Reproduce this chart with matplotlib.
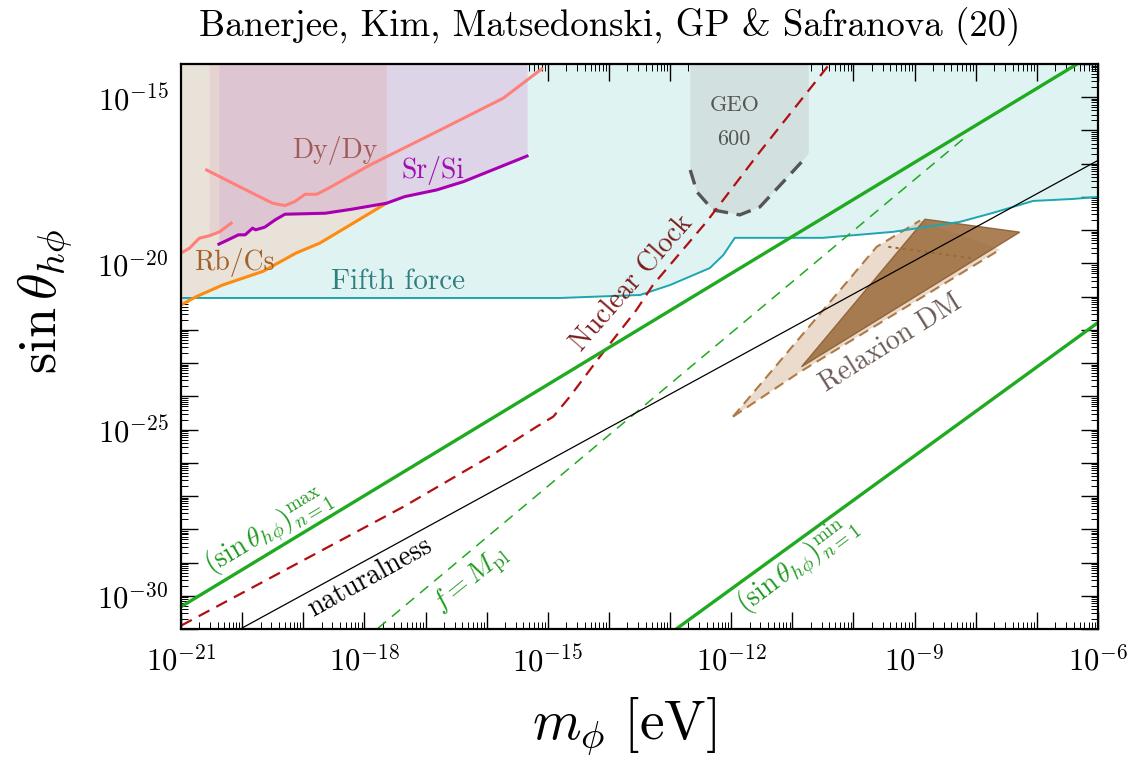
import numpy as np
import matplotlib
matplotlib.use("Agg")
import matplotlib.pyplot as plt
from matplotlib.ticker import LogLocator, FixedLocator, NullFormatter

plt.rcParams['mathtext.fontset'] = 'cm'
RM = ['cmr10', 'DejaVu Serif']

# ---- data (log10 m_phi [eV], log10 sin theta) ----
X_LIM = (-21.0, -6.0)
Y_LIM = (-31.0, -14.0)

ff_logm = [-21.0, -14.80, -13.49, -13.0, -12.35, -12.13, -11.94, -10.50, -9.35, -8.26, -7.72, -7.06, -6.41, -6.0]
ff_logs = [-21.04, -21.04, -20.95, -20.65, -20.14, -19.75, -19.23, -19.23, -19.05, -18.75, -18.48, -18.12, -18.06, -18.0]

rbcs_logm = [-21.0, -20.75, -20.32, -19.66, -19.12, -18.73, -17.64]
rbcs_logs = [-21.25, -21.0, -20.65, -20.24, -19.69, -19.39, -18.19]

dy1_logm = [-21.0, -20.86, -20.70, -20.54, -20.37, -20.18]
dy1_logs = [-19.69, -19.54, -19.24, -19.17, -19.05, -18.79]
dy2_logm = [-20.58, -19.99, -19.50, -19.30, -19.14, -18.97, -18.78, -18.59, -17.91, -16.82, -15.73, -15.10]
dy2_logs = [-17.19, -17.74, -18.19, -18.26, -18.14, -17.92, -17.92, -17.74, -17.04, -16.04, -15.03, -14.15]

srsi_logm = [-20.38, -20.23, -20.06, -19.95, -19.83, -19.78, -19.63, -19.46, -19.30, -18.64, -18.21, -17.64,
             -17.34, -16.82, -16.38, -15.34]
srsi_logs = [-19.42, -19.29, -19.14, -19.14, -18.94, -18.99, -18.91, -18.69, -18.52, -18.49, -18.37, -18.19,
             -17.99, -17.79, -17.54, -16.77]

geo_logm = [-12.67, -12.67, -12.56, -12.30, -11.86, -11.53, -11.09, -10.79, -10.73, -10.73]
geo_logs = [-13.9, -17.19, -17.85, -18.39, -18.54, -18.30, -17.43, -16.83, -16.68, -13.9]

nc_logm = [-21.0, -17.36, -15.95, -15.18, -14.91, -14.64, -14.15, -13.55, -13.28, -12.40, -11.53, -10.36]
nc_logs = [-30.90, -27.32, -25.81, -24.91, -24.61, -24.01, -22.81, -21.40, -20.65, -18.74, -16.64, -13.93]

max_logm, max_logs = [-21.0, -6.0], [-30.33, -13.62]
min_logm, min_logs = [-12.90, -6.0], [-31.0, -21.78]
mpl_logm, mpl_logs = [-17.78, -8.13], [-30.98, -16.14]
nat_logm, nat_logs = [-20.0, -6.0], [-30.97, -16.90]

rel_dark_logm = [-10.85, -8.83, -7.28]
rel_dark_logs = [-23.11, -18.67, -19.06]
rel_light_logm = [-11.97, -9.62, -8.91, -7.60, -10.87]
rel_light_logs = [-24.61, -19.50, -18.71, -19.58, -23.26]
rel_dot_logm = [-9.43, -8.04]
rel_dot_logs = [-19.50, -19.85]


def P(v):
    return 10.0 ** np.asarray(v, dtype=float)


fig = plt.figure(figsize=(11.32, 7.6), dpi=100)
ax = fig.add_axes([181 / 1132, 1 - 629 / 760, 917 / 1132, 565 / 760])
ax.set_xscale('log')
ax.set_yscale('log')
ax.set_xlim(P(X_LIM))
ax.set_ylim(P(Y_LIM))
top = P(Y_LIM[1])

# regions
ax.fill_between(P(ff_logm), P(ff_logs), top, color='#dff3f3', lw=0, zorder=1)
ax.fill_between(P(rbcs_logm), P(rbcs_logs), top, color='#e8e2d9', lw=0, zorder=2)
ax.fill_between(P(dy1_logm[3:]), P(dy1_logs[3:]), top, color='#e4d3d1', lw=0, zorder=2.5)
ax.fill_between(P(srsi_logm[:12]), P(srsi_logs[:12]), top, color='#ddc6d1', lw=0, zorder=3)
ax.fill_between(P(srsi_logm[11:]), P(srsi_logs[11:]), top, color='#ddd5e7', lw=0, zorder=3)
ax.fill(P(geo_logm), P(geo_logs), color='#d3e0e0', lw=0, zorder=3)

# lines
ax.plot(P(ff_logm), P(ff_logs), color='#1ca6b0', lw=1.4, zorder=5)
ax.plot(P(rbcs_logm), P(rbcs_logs), color='#ff8a10', lw=2.2, zorder=6)
ax.plot(P(dy1_logm), P(dy1_logs), color='#ff7f7a', lw=2.2, zorder=6)
ax.plot(P(dy2_logm), P(dy2_logs), color='#ff7f7a', lw=2.2, zorder=6)
ax.plot(P(srsi_logm), P(srsi_logs), color='#a800b0', lw=2.2, zorder=6)
ax.plot(P(geo_logm[1:8]), P(geo_logs[1:8]), color='#555555', lw=2.4, dashes=(4.5, 2.6), zorder=6)

# relaxion DM
ax.fill(P(rel_light_logm), P(rel_light_logs), color='#c89a70', alpha=0.35, lw=0, zorder=4)
ax.fill(P(rel_dark_logm), P(rel_dark_logs), facecolor='#9c6a3a', alpha=0.85,
        edgecolor='#8a5a2e', lw=1.0, zorder=4.5)
ax.plot(P(rel_light_logm[:3]), P(rel_light_logs[:3]), color='#b07a45', lw=1.5, dashes=(5, 3), zorder=4.6)
ax.plot(P([rel_light_logm[0], rel_light_logm[4], rel_light_logm[3]]),
        P([rel_light_logs[0], rel_light_logs[4], rel_light_logs[3]]),
        color='#b07a45', lw=1.5, dashes=(5, 3), zorder=4.6)
ax.plot(P(rel_dot_logm), P(rel_dot_logs), color='#9a6a3c', lw=1.5, dashes=(1.5, 2), zorder=4.6)

ax.plot(P(nc_logm), P(nc_logs), color='#b01010', lw=1.6, dashes=(5.5, 3.5), zorder=7)
ax.plot(P(max_logm), P(max_logs), color='#1faa1f', lw=2.4, zorder=7)
ax.plot(P(min_logm), P(min_logs), color='#1faa1f', lw=2.4, zorder=7)
ax.plot(P(mpl_logm), P(mpl_logs), color='#1faa1f', lw=1.1, dashes=(7, 5), zorder=7)
ax.plot(P(nat_logm), P(nat_logs), color='black', lw=0.9, zorder=7)

# labels on the plot
def lab(lx, ly, s, color, size=20, rot=0, fam=None):
    kw = dict(color=color, fontsize=size, rotation=rot, ha='center', va='center',
              rotation_mode='anchor', zorder=9)
    if fam:
        kw['family'] = fam
    ax.text(P(lx), P(ly), s, **kw)

lab(-17.45, -20.56, 'Fifth force', '#2f7f80', 21, fam=RM)
lab(-18.48, -16.59, 'Dy/Dy', '#a25a58', 20, fam=RM)
lab(-16.88, -17.19, 'Sr/Si', '#a010b0', 20, fam=RM)
lab(-20.13, -19.96, 'Rb/Cs', '#a3622a', 20, fam=RM)
lab(-11.95, -15.23, 'GEO', '#555555', 16, fam=RM)
lab(-11.95, -16.26, '600', '#555555', 16, fam=RM)
lab(-13.62, -20.59, 'Nuclear Clock', '#7b1c1c', 20, 49, fam=RM)
lab(-9.40, -22.39, 'Relaxion DM', '#6b5b55', 20, 32, fam=RM)
lab(-19.56, -28.08, r'$(\sin\theta_{h\phi})^{\mathrm{max}}_{n=1}$', '#1f9a1f', 20, 31)
lab(-17.91, -29.45, 'naturalness', 'black', 20, 29, fam=RM)
lab(-16.24, -29.52, r'$f=M_{\mathrm{pl}}$', '#1f9a1f', 20, 39)
lab(-10.91, -29.07, r'$(\sin\theta_{h\phi})^{\mathrm{min}}_{n=1}$', '#1f9a1f', 20, 37)

# ticks
xdec = np.arange(-21, -5)
ydec = np.arange(-31, -13)
ax.xaxis.set_major_locator(FixedLocator(P(xdec)))
ax.yaxis.set_major_locator(FixedLocator(P(ydec)))
ax.set_xticklabels([r'$10^{%d}$' % d if d % 3 == 0 else '' for d in xdec])
ax.set_yticklabels([r'$10^{%d}$' % d if d % 5 == 0 else '' for d in ydec])
ax.xaxis.set_minor_locator(LogLocator(base=10, subs=np.arange(2, 10), numticks=100))
ax.yaxis.set_minor_locator(LogLocator(base=10, subs=np.arange(2, 10), numticks=100))
ax.xaxis.set_minor_formatter(NullFormatter())
ax.yaxis.set_minor_formatter(NullFormatter())
ax.tick_params(which='both', direction='in', top=True, right=True, labelsize=22)
ax.tick_params(which='major', length=12, width=1.0)
ax.tick_params(which='minor', length=5, width=0.7)
ax.tick_params(axis='x', pad=12)
ax.tick_params(axis='y', pad=9)
for s in ax.spines.values():
    s.set_linewidth(1.6)
    s.set_zorder(10)

fig.text(610 / 1132, 1 - 27 / 760, 'Banerjee, Kim, Matsedonski, GP & Safranova (20)',
         family=RM, fontsize=26.5, ha='center', va='center')
fig.text(44 / 1132, 1 - 301 / 760, r'$\sin\theta_{h\phi}$', fontsize=39, rotation=90,
         ha='center', va='center')
fig.text(624 / 1132, 1 - 726 / 760, r'$m_\phi\ [\mathrm{eV}]$', fontsize=40,
         ha='center', va='center')

fig.savefig('out.png', dpi=100)
